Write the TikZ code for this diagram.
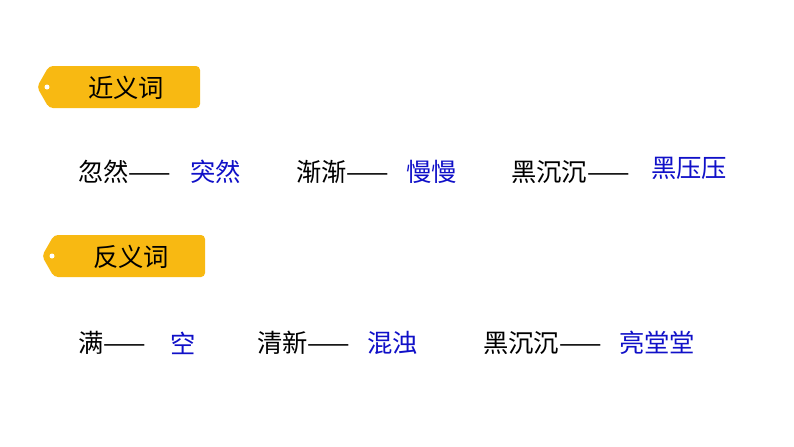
\documentclass[tikz,border=0pt]{standalone}
\usepackage{fontspec}
\newfontfamily\cjk{Noto Sans CJK SC}
\definecolor{tagy}{HTML}{F8B912}
\definecolor{bl}{HTML}{1010C8}
\begin{document}
\begin{tikzpicture}[x=0.75pt,y=-0.75pt,
  txt/.style={anchor=west,inner sep=0pt,font=\cjk\fontsize{19}{19}\selectfont},
  ans/.style={txt,text=bl},
  tagtxt/.style={anchor=center,inner sep=0pt,font=\cjk\fontsize{19}{19}\selectfont}]
\useasboundingbox (0,0) rectangle (794,447);
\fill[white] (0,0) rectangle (794,447);
\foreach \x/\y/\n in {37/66/a,42/235/b}{
  \fill[tagy,rounded corners=3pt] (\x+12,\y) -- (\x+163,\y) -- (\x+163,\y+42) -- (\x+12,\y+42) -- (\x,\y+21) -- cycle;
  \fill[white] (\x+10,\y+21) circle (2.5);
}
\node[tagtxt] (t1) at (126,88) {近义词};
\node[tagtxt] (t2) at (131,257) {反义词};
\node[txt] (a1) at (78,172) {忽然——};
\node[ans] (b1) at (190,172) {突然};
\node[txt] (a2) at (296,172) {渐渐——};
\node[ans] (b2) at (406,172) {慢慢};
\node[txt] (a3) at (511,172) {黑沉沉——};
\node[ans] (b3) at (651,168) {黑压压};
\node[txt] (c1) at (78,343) {满——};
\node[ans] (d1) at (170,343) {空};
\node[txt] (c2) at (257,343) {清新——};
\node[ans] (d2) at (367,343) {混浊};
\node[txt] (c3) at (483,343) {黑沉沉——};
\node[ans] (d3) at (619,343) {亮堂堂};
\end{tikzpicture}
\end{document}
